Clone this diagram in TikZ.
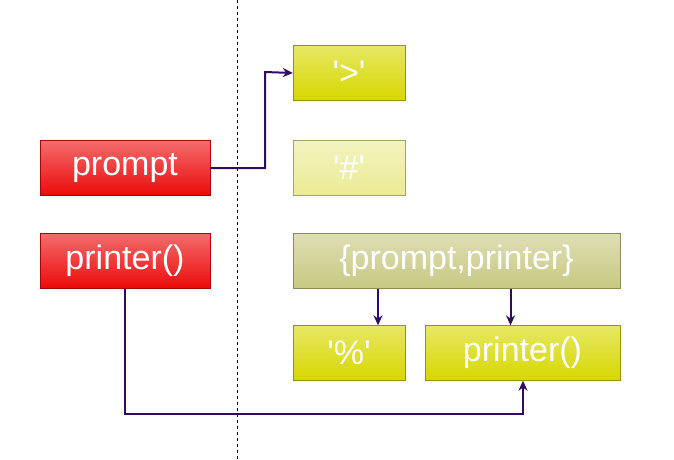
\documentclass[tikz,border=0pt]{standalone}
\usepackage{fontspec}
\setmainfont{Liberation Sans}
\usetikzlibrary{positioning, arrows.meta}

\definecolor{redbox}{RGB}{235,10,10}
\definecolor{yelbox}{RGB}{215,215,0}
\definecolor{palebox}{RGB}{235,235,150}
\definecolor{olivebox}{RGB}{200,200,130}
\definecolor{wire}{RGB}{50,10,100}
\newcommand{\sq}{\textquotesingle}

\begin{document}
\begin{tikzpicture}[x=1pt,y=1pt,yscale=-1,
  box/.style={draw=#1!70!black, top color=#1!60!white, bottom color=#1, minimum height=55pt,
    inner sep=0pt, text=white, font=\fontsize{34}{40}\selectfont},
  link/.style={draw=wire, line width=2pt, -{Stealth[length=10pt,width=9pt]}}]
\useasboundingbox (0,0) rectangle (674,459);

% dividing line
\draw[dashed, thick] (237,0) -- (237,459);

% left side
\node[box=redbox, minimum width=170pt] (prompt) at (125,168) {prompt};
\node[box=redbox, minimum width=170pt] (printer) at (125,261) {printer()};

% right side
\node[box=yelbox, minimum width=112pt] (gt) at (349,73) {\sq>\sq};
\node[box=palebox, minimum width=112pt] (hash) at (349,168) {\sq\#\sq};
\node[box=olivebox, minimum width=327pt] (pair) at (456.5,261) {\{prompt,printer\}};
\node[box=yelbox, minimum width=112pt] (pct) at (349,353) {\sq\%\sq};
\node[box=yelbox, minimum width=195pt] (prn) at (522.5,353) {printer()};

% connectors
\draw[link] (prompt.east) -| ++(55,-96) -- (gt.west);
\draw[link] (printer.south) |- ++(398,125) -- ([xshift=0.5pt]prn.south);
\draw[link] ([xshift=29pt]pct.north |- pair.south) -- ([xshift=29pt]pct.north);
\draw[link] ([xshift=-12pt]prn.north |- pair.south) -- ([xshift=-12pt]prn.north);
\end{tikzpicture}
\end{document}
